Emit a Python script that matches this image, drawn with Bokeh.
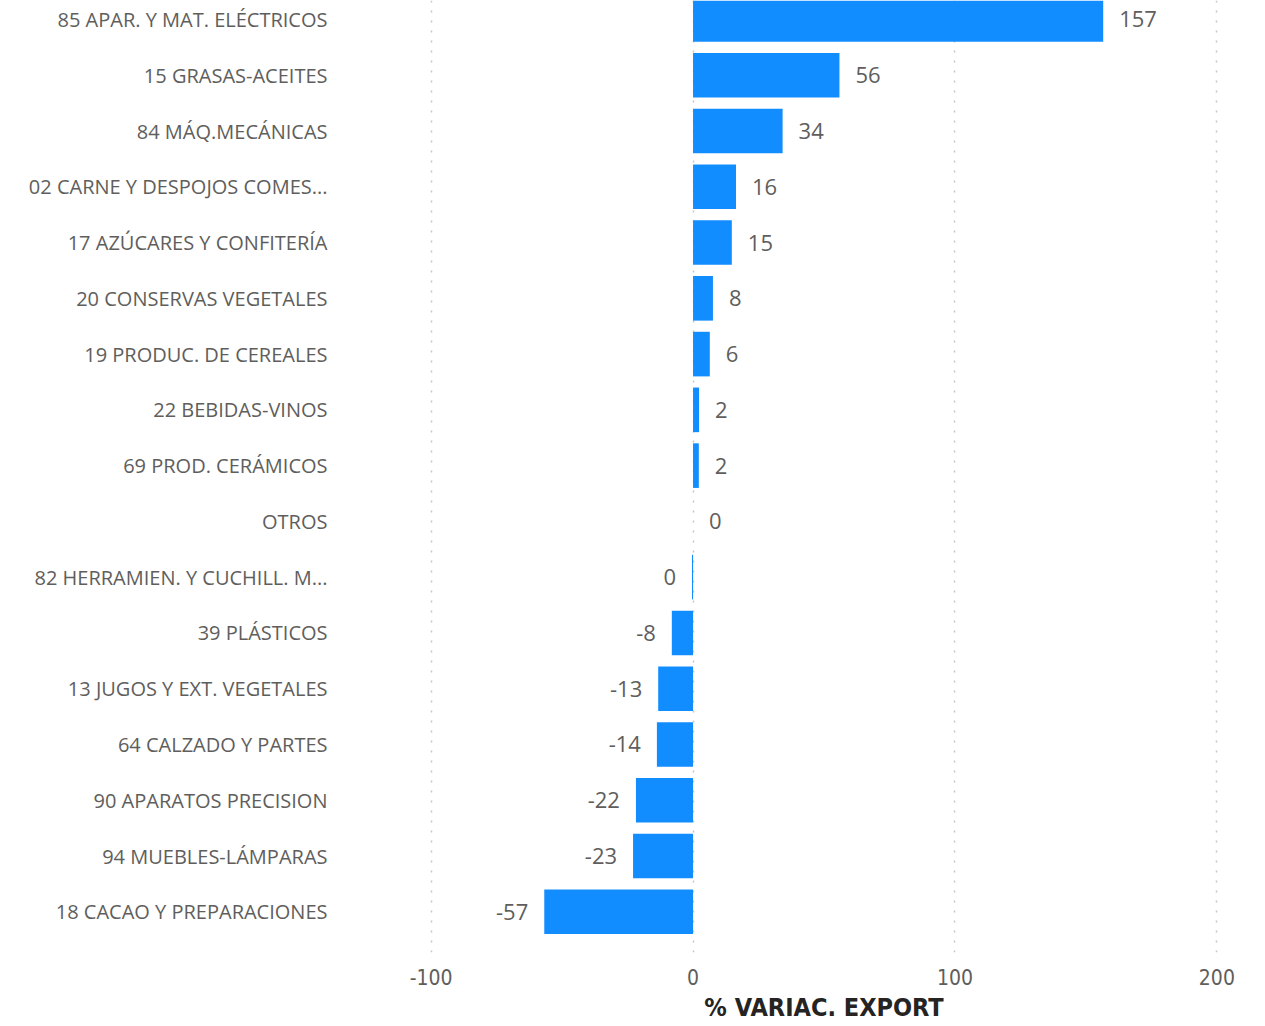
from bokeh.plotting import figure
from bokeh.models import ColumnDataSource, Range1d, FixedTicker
from bokeh.core.properties import value
from bokeh.embed import file_html
from bokeh.resources import INLINE

categories = [
    "85 APAR. Y MAT. ELÉCTRICOS",
    "15 GRASAS-ACEITES",
    "84 MÁQ.MECÁNICAS",
    "02 CARNE Y DESPOJOS COMES...",
    "17 AZÚCARES Y CONFITERÍA",
    "20 CONSERVAS VEGETALES",
    "19 PRODUC. DE CEREALES",
    "22 BEBIDAS-VINOS",
    "69 PROD. CERÁMICOS",
    "OTROS",
    "82 HERRAMIEN. Y CUCHILL. M...",
    "39 PLÁSTICOS",
    "13 JUGOS Y EXT. VEGETALES",
    "64 CALZADO Y PARTES",
    "90 APARATOS PRECISION",
    "94 MUEBLES-LÁMPARAS",
    "18 CACAO Y PREPARACIONES",
]
variac = [156.6, 55.9, 34.2, 16.4, 14.8, 7.6, 6.4, 2.3, 2.2, 0.0, -0.4,
          -8.1, -13.3, -13.8, -21.8, -22.9, -56.8]
x_ticks = [-100, 0, 100, 200]
x_tick_labels = ["-100", "0", "100", "200"]
axis_title = "% VARIAC. EXPORT"

idx = list(range(len(categories)))
labels = [str(int(round(v))) if abs(round(v)) > 0 else "0" for v in variac]

bars = ColumnDataSource(dict(y=idx, v=variac))
pos = [i for i, v in enumerate(variac) if v >= 0]
neg = [i for i, v in enumerate(variac) if v < 0]
pos_src = ColumnDataSource(dict(y=[idx[i] for i in pos], v=[variac[i] for i in pos],
                                t=[labels[i] for i in pos]))
neg_src = ColumnDataSource(dict(y=[idx[i] for i in neg], v=[variac[i] for i in neg],
                                t=[labels[i] for i in neg]))

p = figure(width=1257, height=1024, output_backend="svg", toolbar_location=None,
           x_range=Range1d(-101, 201), y_range=Range1d(16.73, -0.34),
           min_border_left=428, min_border_right=38, min_border_top=0,
           min_border_bottom=70)
p.outline_line_color = None
p.background_fill_color = "white"
p.border_fill_color = "white"

p.hbar(y="y", right="v", left=0, height=0.8, source=bars,
       fill_color="#118DFF", line_color=None)

label_font = "'Open Sans', 'Noto Sans', sans-serif"
p.text(x="v", y="y", text="t", source=pos_src, x_offset=16,
       text_align="left", text_baseline="middle",
       text_font=value(label_font), text_font_size="22px", text_color="#605E5C")
p.text(x="v", y="y", text="t", source=neg_src, x_offset=-16,
       text_align="right", text_baseline="middle",
       text_font=value(label_font), text_font_size="22px", text_color="#605E5C")

# grid
p.xaxis.ticker = FixedTicker(ticks=x_ticks)
p.xaxis.major_label_overrides = {t: s for t, s in zip(x_ticks, x_tick_labels)}
p.xgrid.grid_line_color = "#C8C6C4"
p.xgrid.grid_line_dash = "2 8"
p.xgrid.grid_line_width = 1.5
p.ygrid.grid_line_color = None

cond_font = "'Liberation Sans Narrow', 'DejaVu Sans Condensed', sans-serif"
# x axis
p.xaxis.axis_line_color = None
p.xaxis.major_tick_line_color = None
p.xaxis.minor_tick_line_color = None
p.xaxis.major_label_standoff = 10
p.xaxis.major_label_text_font = cond_font
p.xaxis.major_label_text_font_size = "21px"
p.xaxis.major_label_text_color = "#605E5C"
p.xaxis.axis_label = axis_title
p.xaxis.axis_label_standoff = 5
p.xaxis.axis_label_text_font = cond_font
p.xaxis.axis_label_text_font_size = "25px"
p.xaxis.axis_label_text_font_style = "bold"
p.xaxis.axis_label_text_color = "#252423"

# y axis
p.yaxis.ticker = FixedTicker(ticks=idx)
p.yaxis.major_label_overrides = {i: c for i, c in zip(idx, categories)}
p.yaxis.axis_line_color = None
p.yaxis.major_tick_line_color = None
p.yaxis.minor_tick_line_color = None
p.yaxis.major_label_standoff = 95
p.yaxis.major_label_text_font = label_font
p.yaxis.major_label_text_font_size = "20px"
p.yaxis.major_label_text_color = "#605E5C"

open("out.html", "w").write(file_html(p, INLINE))
